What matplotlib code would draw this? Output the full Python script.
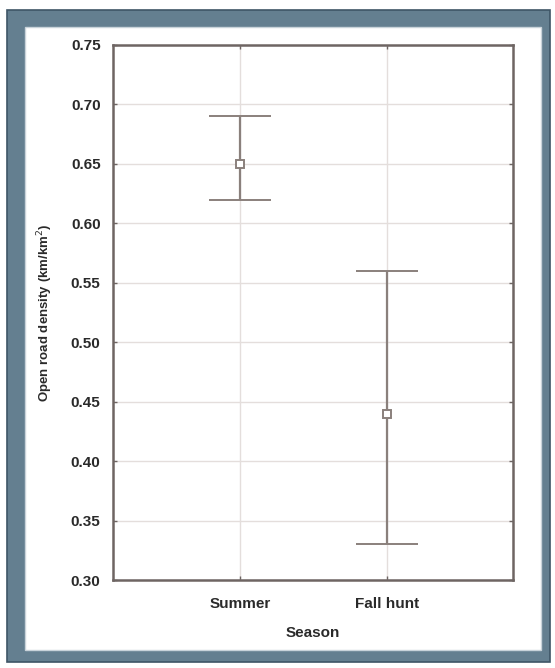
import matplotlib
matplotlib.use('Agg')
import matplotlib.pyplot as plt
from matplotlib.patches import Rectangle

# data
seasons = ['Summer', 'Fall hunt']
means = [0.65, 0.44]
upper = [0.69, 0.56]
lower = [0.62, 0.33]
yticks = [0.30, 0.35, 0.40, 0.45, 0.50, 0.55, 0.60, 0.65, 0.70, 0.75]

plt.rcParams['font.family'] = ['Liberation Sans', 'DejaVu Sans']

W, H = 555, 668
fig = plt.figure(figsize=(W / 100, H / 100), dpi=100)

# blue-grey picture frame around the plot
def px(x0, y0, x1, y1):
    return (x0 / W, 1 - y1 / H), (x1 - x0) / W, (y1 - y0) / H

xy, w, h = px(7, 10, 550, 662)
fig.add_artist(Rectangle(xy, w, h, transform=fig.transFigure, zorder=-10,
                         facecolor='#647f90', edgecolor='#3e5566', lw=1.2))
xy, w, h = px(25, 27, 541, 650)
fig.add_artist(Rectangle(xy, w, h, transform=fig.transFigure, zorder=-9,
                         facecolor='white', edgecolor='#c9d3da', lw=1.0))

ax = fig.add_axes([113 / W, 1 - 580 / H, 400 / W, 535 / H])
ax.patch.set_alpha(0)
pos = [1, 2]
col = '#8a807c'
for p, m, lo, hi in zip(pos, means, lower, upper):
    ax.errorbar([p], [m], yerr=[[m - lo], [hi - m]], fmt='s', color=col,
                ecolor=col, elinewidth=1.6, capsize=22, capthick=2.2,
                markersize=6, markerfacecolor='white', markeredgecolor=col,
                markeredgewidth=1.4, zorder=3)

ax.set_xlim(0.136, 2.857)
ax.set_ylim(0.30, 0.75)
ax.set_yticks(yticks)
ax.set_yticklabels(['%.2f' % v for v in yticks])
ax.set_xticks(pos)
ax.set_xticklabels(seasons)
ax.grid(True, color='#e4dedc', lw=1.0)
ax.set_axisbelow(True)
for s in ax.spines.values():
    s.set_color('#6e6563')
    s.set_linewidth(1.8)
ax.tick_params(axis='both', direction='in', length=3, width=1, color='#6e6563',
               labelsize=11, right=True, top=True)
ax.tick_params(axis='y', pad=9)
ax.tick_params(axis='x', pad=12)
for t in ax.get_yticklabels() + ax.get_xticklabels():
    t.set_fontweight('bold')
    t.set_color('#2a2a2a')
ax.set_xlabel('Season', fontsize=11, fontweight='bold', color='#2a2a2a', labelpad=11)
ax.set_ylabel('Open road density (km/km$^2$)', fontsize=9.5, fontweight='bold',
              color='#2a2a2a', labelpad=11)

fig.savefig('out.png', dpi=100)
